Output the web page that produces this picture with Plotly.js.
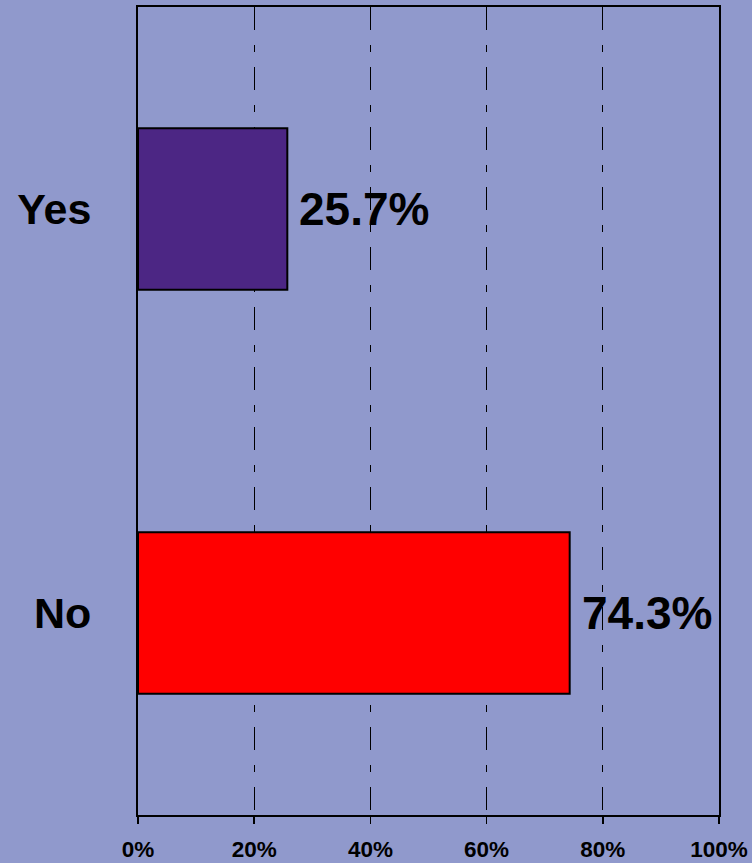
<!DOCTYPE html>
<html>
<head>
<meta charset="utf-8">
<script src="https://cdn.plot.ly/plotly-3.0.1.min.js"></script>
<style>
  html, body { margin: 0; padding: 0; background: #9099cc; }
  #chart { width: 752px; height: 863px; }
</style>
</head>
<body>
<div id="chart"></div>
<script>
const categories = ['No', 'Yes'];
const values = [74.3, 25.7];
const barColors = ['#ff0000', '#4c2684'];
const valueLabels = ['74.3%', '25.7%'];
const xTickVals = [0, 20, 40, 60, 80, 100];
const xTickText = ['0%', '20%', '40%', '60%', '80%', '100%'];

const FONT = '"Liberation Sans", Arial, Helvetica, sans-serif';

const trace = {
  type: 'bar',
  orientation: 'h',
  x: values,
  y: categories,
  width: 0.4,
  marker: { color: barColors, line: { color: '#000000', width: 2 } },
  hoverinfo: 'none'
};

const annotations = categories.map((c, i) => ({
  x: values[i],
  y: c,
  xref: 'x',
  yref: 'y',
  text: '<b>' + valueLabels[i] + '</b>',
  showarrow: false,
  xanchor: 'left',
  yanchor: 'middle',
  xshift: 10,
  font: { family: FONT, size: 46, color: '#000000' }
}));

const layout = {
  width: 752,
  height: 863,
  margin: { l: 138, r: 33, t: 7, b: 48, pad: 0 },
  paper_bgcolor: '#9099cc',
  plot_bgcolor: '#9099cc',
  showlegend: false,
  font: { family: FONT, color: '#000000' },
  xaxis: {
    range: [0, 100],
    tickvals: xTickVals,
    ticktext: xTickText,
    tickfont: { family: FONT, size: 22.5, color: '#000000', weight: 'bold' },
    ticks: 'outside',
    ticklen: 7,
    tickwidth: 1.5,
    tickcolor: '#000000',
    ticklabelstandoff: 6,
    showline: true,
    linecolor: '#000000',
    linewidth: 2,
    mirror: true,
    showgrid: true,
    gridcolor: '#000000',
    gridwidth: 1,
    griddash: '23px,15px,7px,15px',
    zeroline: false,
    fixedrange: true
  },
  yaxis: {
    type: 'category',
    categoryorder: 'array',
    categoryarray: categories,
    range: [-0.5, 1.5],
    tickfont: { family: FONT, size: 43, color: '#000000', weight: 'bold' },
    ticks: '',
    ticklabelstandoff: 36,
    showline: true,
    linecolor: '#000000',
    linewidth: 2,
    mirror: true,
    showgrid: false,
    zeroline: false,
    fixedrange: true
  },
  annotations: annotations
};

Plotly.newPlot('chart', [trace], layout, { displayModeBar: false, staticPlot: true });
</script>
</body>
</html>
